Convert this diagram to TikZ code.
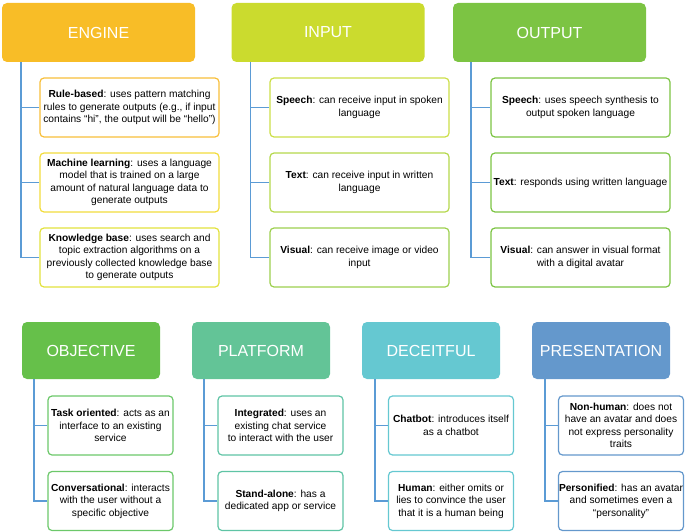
\documentclass[tikz,border=0pt]{standalone}
\usepackage{fontspec}
\setmainfont{Liberation Sans}
\definecolor{linec}{HTML}{5B9BD5}
\definecolor{cEng}{HTML}{F8BD27}
\definecolor{cEngA}{HTML}{F8BF3A}
\definecolor{cEngB}{HTML}{F2DC3C}
\definecolor{cEngC}{HTML}{E2E23E}
\definecolor{cIn}{HTML}{CBDB2E}
\definecolor{cInA}{HTML}{CCDF48}
\definecolor{cInB}{HTML}{B5D84C}
\definecolor{cInC}{HTML}{9DD04F}
\definecolor{cOut}{HTML}{7CC443}
\definecolor{cObj}{HTML}{66C04A}
\definecolor{cObjC}{HTML}{6CC86A}
\definecolor{cPlat}{HTML}{63C497}
\definecolor{cPlatC}{HTML}{5FC4A5}
\definecolor{cDec}{HTML}{65C8D1}
\definecolor{cPres}{HTML}{6498CC}
\begin{document}
\begin{tikzpicture}[x=1pt,y=-1pt,
  hdr/.style={rectangle, rounded corners=5pt, text=white, inner sep=0pt,
    font=\fontsize{16}{19}\selectfont},
  hdrtop/.style={hdr, minimum width=193pt, minimum height=59pt},
  hdrbot/.style={hdr, minimum width=138pt, minimum height=57pt},
  sub/.style={rectangle, rounded corners=4pt, draw, line width=1.2pt, fill=white,
    inner sep=0pt, align=center, font=\fontsize{10.2}{12.4}\selectfont},
  subtop/.style={sub, minimum width=179pt, minimum height=59pt},
  subbot/.style={sub, minimum width=125pt, minimum height=59pt},
  conn/.style={draw=linec, line width=1.4pt}]
\useasboundingbox (0,0) rectangle (685,532);

% ---------- ENGINE ----------
\node[hdrtop, fill=cEng] (eng) at (98.5,32.5) {ENGINE};
\node[subtop, draw=cEngA] (e1) at (129.5,107.5) {\textbf{Rule-based}: uses pattern matching\\rules to generate outputs (e.g., if input\\contains “hi”, the output will be “hello”)};
\node[subtop, draw=cEngB] (e2) at (129.5,182.5) {\textbf{Machine learning}: uses a language\\model that is trained on a large\\amount of natural language data to\\generate outputs};
\node[subtop, draw=cEngC] (e3) at (129.5,257.5) {\textbf{Knowledge base}: uses search and\\topic extraction algorithms on a\\previously collected knowledge base\\to generate outputs};
\draw[conn] ([xshift=19pt]eng.south west) |- (e3.west);
\draw[conn] ([xshift=19pt]eng.south west) |- (e1.west);
\draw[conn] ([xshift=19pt]eng.south west) |- (e2.west);

% ---------- INPUT ----------
\node[hdrtop, fill=cIn] (inp) at (328,32.5) {INPUT};
\node[subtop, draw=cInA] (i1) at (359.5,107.5) {\textbf{Speech}: can receive input in spoken\\language};
\node[subtop, draw=cInB] (i2) at (359.5,182.5) {\textbf{Text}: can receive input in written\\language};
\node[subtop, draw=cInC] (i3) at (359.5,257.5) {\textbf{Visual}: can receive image or video\\input};
\draw[conn] ([xshift=19pt]inp.south west) |- (i3.west);
\draw[conn] ([xshift=19pt]inp.south west) |- (i1.west);
\draw[conn] ([xshift=19pt]inp.south west) |- (i2.west);

% ---------- OUTPUT ----------
\node[hdrtop, fill=cOut] (out) at (549.5,32.5) {OUTPUT};
\node[subtop, draw=cOut] (o1) at (580.5,107.5) {\textbf{Speech}: uses speech synthesis to\\output spoken language};
\node[subtop, draw=cOut] (o2) at (580.5,182.5) {\textbf{Text}: responds using written language};
\node[subtop, draw=cOut] (o3) at (580.5,257.5) {\textbf{Visual}: can answer in visual format\\with a digital avatar};
\draw[conn] ([xshift=18pt]out.south west) |- (o3.west);
\draw[conn] ([xshift=18pt]out.south west) |- (o1.west);
\draw[conn] ([xshift=18pt]out.south west) |- (o2.west);

% ---------- OBJECTIVE ----------
\node[hdrbot, fill=cObj] (obj) at (91,350.5) {OBJECTIVE};
\node[subbot, draw=cObjC] (b1) at (110.5,425.5) {\textbf{Task oriented}: acts as an\\interface to an existing\\service};
\node[subbot, draw=cObjC] (b2) at (110.5,501) {\textbf{Conversational}: interacts\\with the user without a\\specific objective};
\draw[conn] ([xshift=12pt]obj.south west) |- (b2.west);
\draw[conn] ([xshift=12pt]obj.south west) |- (b1.west);

% ---------- PLATFORM ----------
\node[hdrbot, fill=cPlat] (plat) at (261,350.5) {PLATFORM};
\node[subbot, draw=cPlatC] (p1) at (280.5,425.5) {\textbf{Integrated}: uses an\\existing chat service\\to interact with the user};
\node[subbot, draw=cPlatC] (p2) at (280.5,501) {\textbf{Stand-alone}: has a\\dedicated app or service};
\draw[conn] ([xshift=12pt]plat.south west) |- (p2.west);
\draw[conn] ([xshift=12pt]plat.south west) |- (p1.west);

% ---------- DECEITFUL ----------
\node[hdrbot, fill=cDec] (dec) at (431,350.5) {DECEITFUL};
\node[subbot, draw=cDec] (d1) at (451,425.5) {\textbf{Chatbot}: introduces itself\\as a chatbot};
\node[subbot, draw=cDec] (d2) at (451,501) {\textbf{Human}: either omits or\\lies to convince the user\\that it is a human being};
\draw[conn] ([xshift=13pt]dec.south west) |- (d2.west);
\draw[conn] ([xshift=13pt]dec.south west) |- (d1.west);

% ---------- PRESENTATION ----------
\node[hdrbot, fill=cPres] (pres) at (601,350.5) {PRESENTATION};
\node[subbot, draw=cPres] (r1) at (621,425.5) {\textbf{Non-human}: does not\\have an avatar and does\\not express personality\\traits};
\node[subbot, draw=cPres] (r2) at (621,501) {\textbf{Personified}: has an avatar\\and sometimes even a\\“personality”};
\draw[conn] ([xshift=13pt]pres.south west) |- (r2.west);
\draw[conn] ([xshift=13pt]pres.south west) |- (r1.west);
\end{tikzpicture}
\end{document}
